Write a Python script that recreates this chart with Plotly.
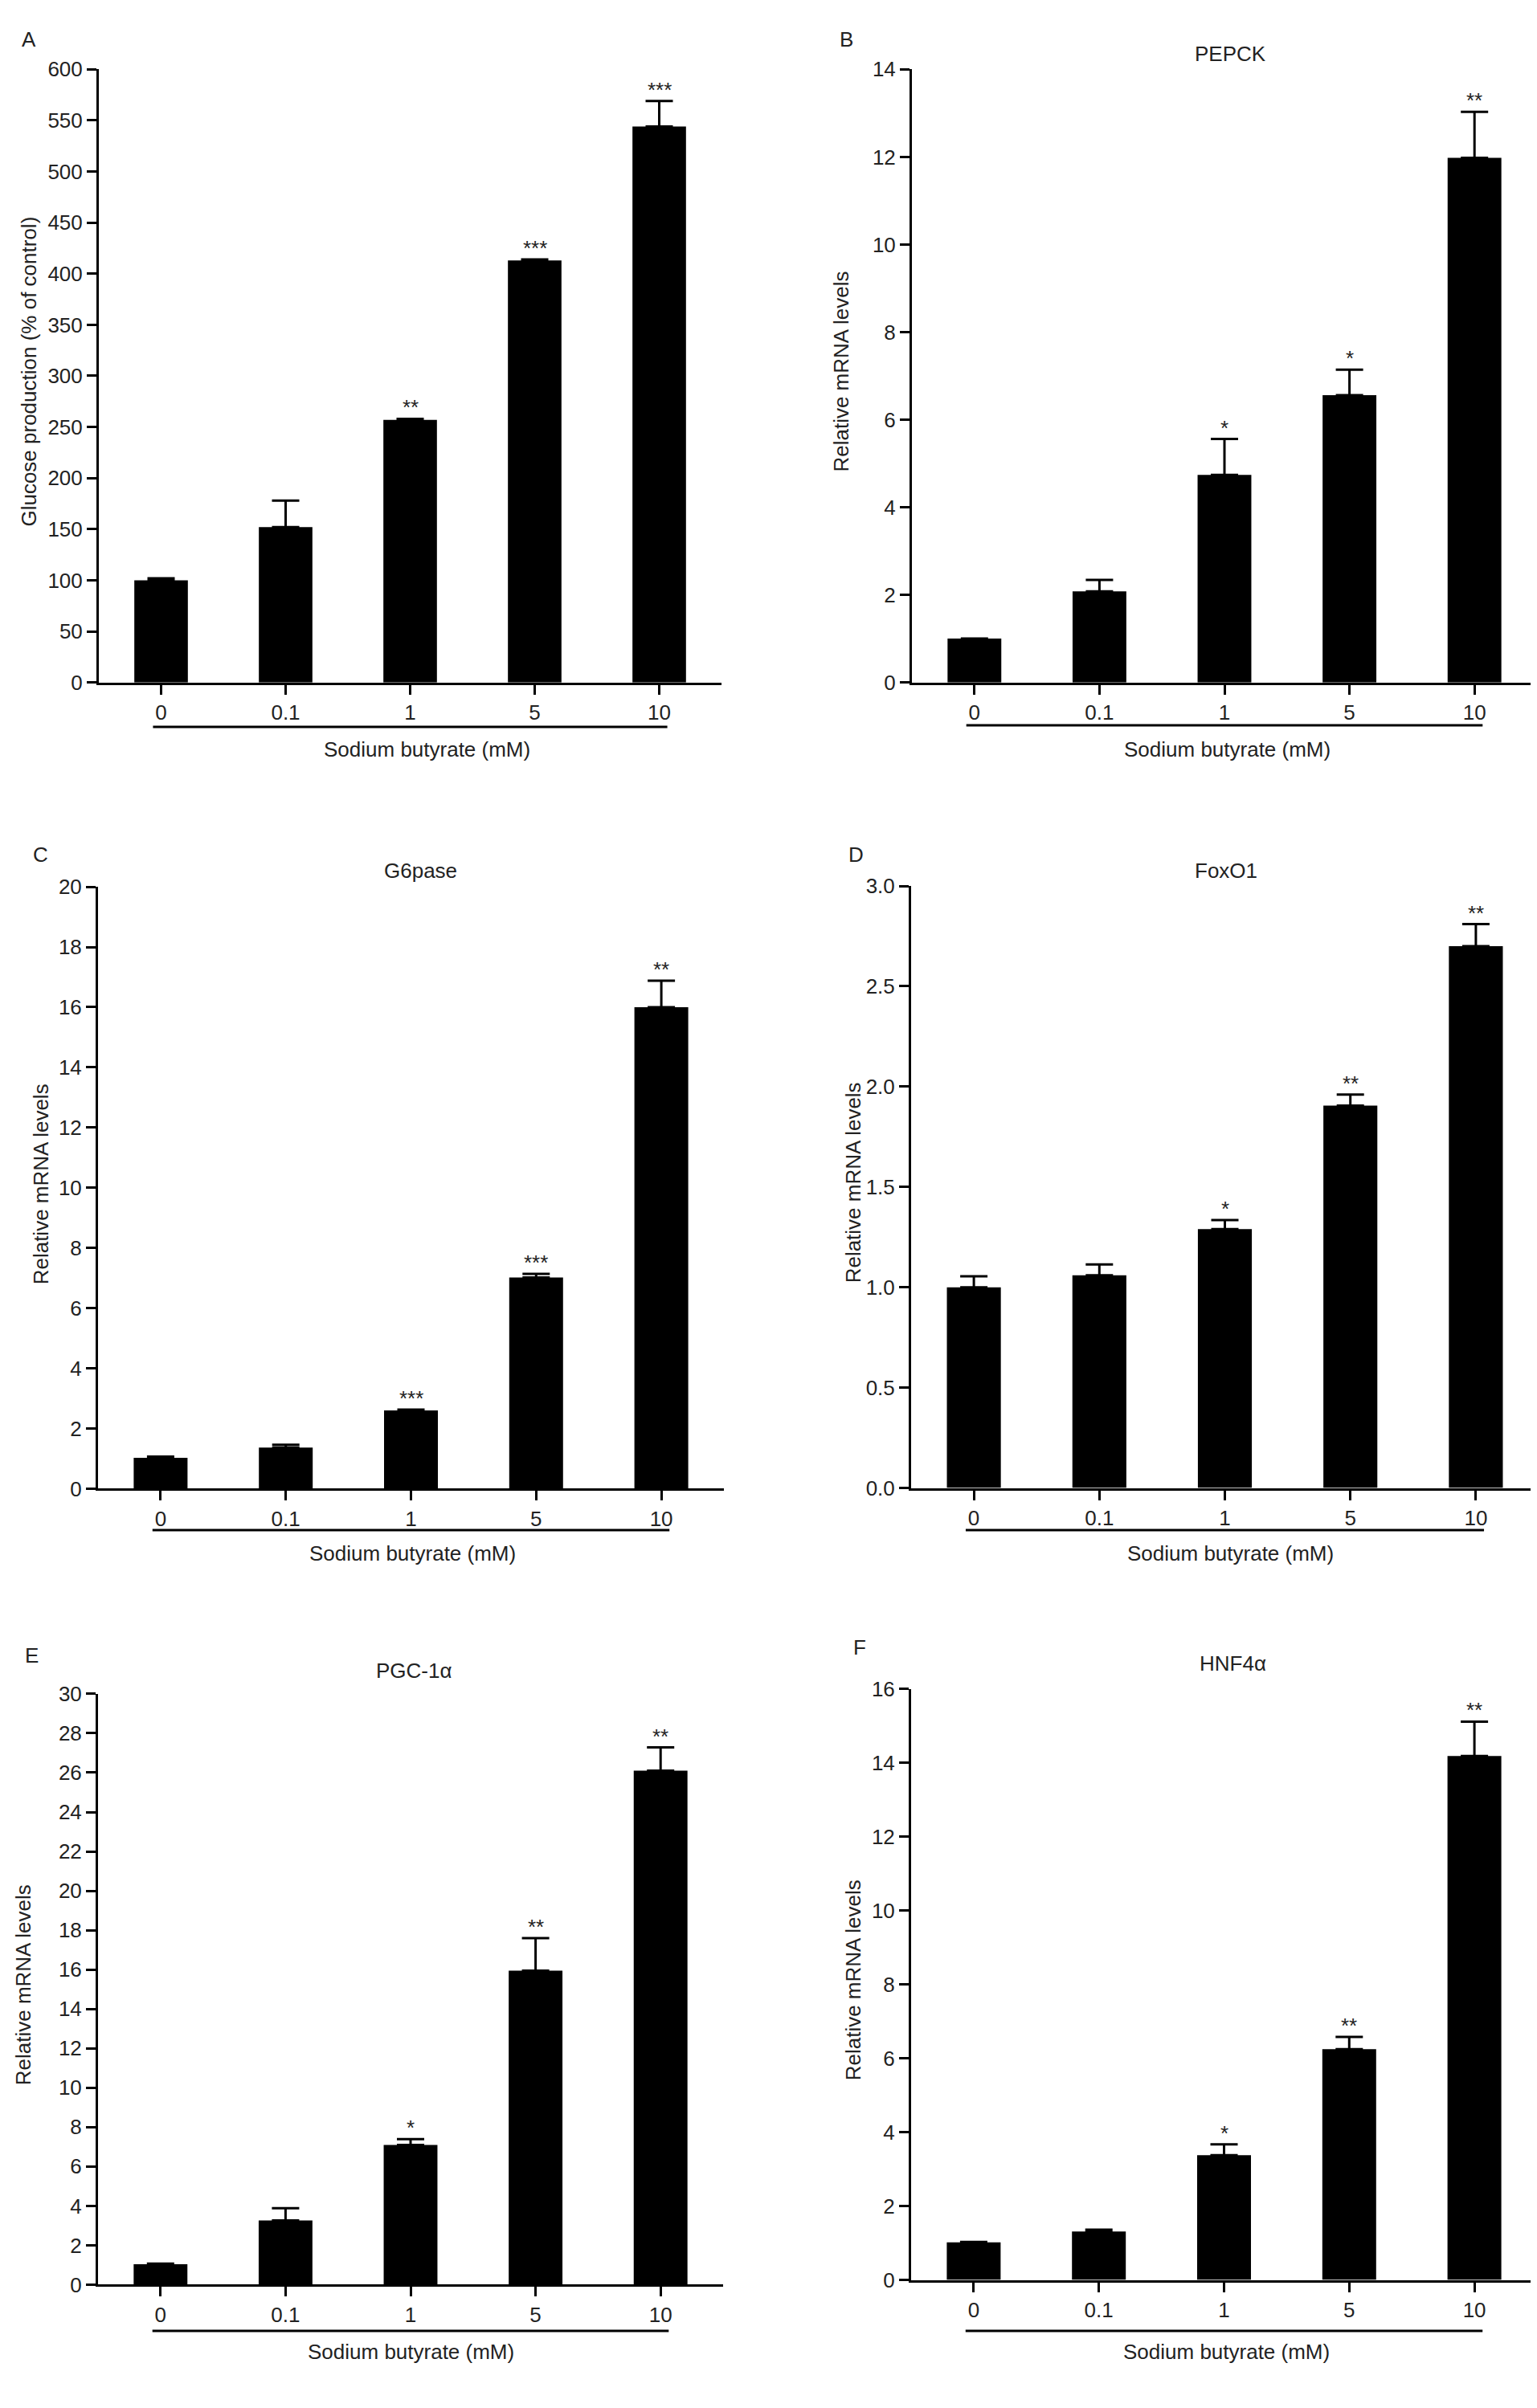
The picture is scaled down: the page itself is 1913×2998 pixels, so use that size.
import plotly.graph_objects as go
from plotly.subplots import make_subplots

W, H = 1913, 2998

doses = ["0", "0.1", "1", "5", "10"]

# panel A - glucose production
glucose = [100, 152, 257, 413, 544]
glucose_err = [2, 26, 1, 1, 25]
glucose_sig = ["", "", "**", "***", "***"]

# panel B - PEPCK
pepck = [1.0, 2.08, 4.74, 6.56, 11.98]
pepck_err = [0.0, 0.26, 0.82, 0.58, 1.05]
pepck_sig = ["", "", "*", "*", "**"]

# panel C - G6pase
g6pase = [1.03, 1.37, 2.6, 7.02, 16.0]
g6pase_err = [0.04, 0.09, 0.03, 0.12, 0.88]
g6pase_sig = ["", "", "***", "***", "**"]

# panel D - FoxO1
foxo1 = [1.0, 1.06, 1.29, 1.905, 2.70]
foxo1_err = [0.055, 0.054, 0.045, 0.056, 0.11]
foxo1_sig = ["", "", "*", "**", "**"]

# panel E - PGC-1a
pgc1a = [1.04, 3.26, 7.1, 15.95, 26.1]
pgc1a_err = [0.03, 0.62, 0.29, 1.65, 1.18]
pgc1a_sig = ["", "", "*", "**", "**"]

# panel F - HNF4a
hnf4a = [1.02, 1.31, 3.38, 6.25, 14.19]
hnf4a_err = [0.01, 0.05, 0.29, 0.33, 0.93]
hnf4a_sig = ["", "", "*", "**", "**"]

FONT = "Liberation Sans, Arial, sans-serif"
TXT = "#222222"
FS = 26

# (letter, title, ytitle, values, errs, sig, ymax, dtick, tickformat,
#  plot box px [x0, x1, y0, y1], letter px, title px, ytitle px, xlabel px, underline y px)
panels = [
    ("A", "", "Glucose production (% of control)", glucose, glucose_err, glucose_sig, 600, 50, "d",
     [115, 890, 64, 835], (28, 26), None, (28, 444), (523, 919), 891),
    ("B", "PEPCK", "Relative mRNA levels", pepck, pepck_err, pepck_sig, 14, 2, "d",
     [1127, 1905, 64, 835], (1045, 26), (1523, 44), (1039, 444), (1519, 919), 889),
    ("C", "G6pase", "Relative mRNA levels", g6pase, g6pase_err, g6pase_sig, 20, 2, "d",
     [114, 893, 1092, 1849], (42, 1052), (515, 1072), (43, 1466), (505, 1930), 1901),
    ("D", "FoxO1", "Relative mRNA levels", foxo1, foxo1_err, foxo1_sig, 3, 0.5, ".1f",
     [1126, 1907, 1091, 1848], (1057, 1052), (1518, 1072), (1054, 1464), (1523, 1930), 1901),
    ("E", "PGC-1α", "Relative mRNA levels", pgc1a, pgc1a_err, pgc1a_sig, 30, 2, "d",
     [114, 892, 2107, 2850], (31, 2059), (507, 2078), (21, 2473), (503, 2934), 2908),
    ("F", "HNF4α", "Relative mRNA levels", hnf4a, hnf4a_err, hnf4a_sig, 16, 2, "d",
     [1126, 1905, 2101, 2844], (1062, 2048), (1526, 2069), (1054, 2467), (1518, 2934), 2908),
]

fig = make_subplots(rows=3, cols=2)


def px(p):
    return p[0] / W, 1 - p[1] / H


annotations = []
shapes = []
for i, (letter, title, ytitle, vals, errs, sig, ymax, dtick, tfmt,
        box, lpos, tpos, ypos, xlpos, uly) in enumerate(panels):
    row, col = i // 2 + 1, i % 2 + 1
    fig.add_trace(go.Bar(
        x=doses, y=vals,
        marker=dict(color="black", line=dict(width=0)),
        error_y=dict(type="data", symmetric=False, array=errs, arrayminus=[0] * len(errs),
                     color="black", thickness=3, width=17),
        showlegend=False,
    ), row=row, col=col)

    n = "" if i == 0 else str(i + 1)
    fig.layout["xaxis" + n].update(
        domain=[box[0] / W, box[1] / W],
        type="category", range=[-0.5, 4.5],
        showline=True, linecolor="black", linewidth=3,
        ticks="outside", ticklen=12, tickwidth=3, tickcolor="black",
        tickfont=dict(size=FS, color=TXT, family=FONT),
        showgrid=False, zeroline=False, fixedrange=True,
    )
    fig.layout["yaxis" + n].update(
        domain=[1 - box[3] / H, 1 - box[2] / H],
        range=[0, ymax], dtick=dtick, tick0=0, tickformat=tfmt,
        showline=True, linecolor="black", linewidth=3,
        ticks="outside", ticklen=12, tickwidth=3, tickcolor="black",
        tickfont=dict(size=FS, color=TXT, family=FONT),
        showgrid=False, zeroline=False, fixedrange=True,
    )

    xr = "x" + n
    yr = "y" + n
    # significance stars above the error bars (category index positions)
    for j, (v, e, s) in enumerate(zip(vals, errs, sig)):
        if s:
            annotations.append(dict(x=j, y=v + e, xref=xr, yref=yr, text=s, showarrow=False,
                                    yanchor="bottom", yshift=-3,
                                    font=dict(size=FS, color=TXT, family=FONT)))

    # panel letter, title, axis labels
    lx, ly = px(lpos)
    annotations.append(dict(x=lx, y=ly, xref="paper", yref="paper", text=letter, showarrow=False,
                            xanchor="center", yanchor="middle",
                            font=dict(size=FS, color=TXT, family=FONT)))
    if tpos:
        tx, ty = px(tpos)
        annotations.append(dict(x=tx, y=ty, xref="paper", yref="paper", text=title, showarrow=False,
                                xanchor="center", yanchor="middle",
                                font=dict(size=FS, color=TXT, family=FONT)))
    yx, yy = px(ypos)
    annotations.append(dict(x=yx, y=yy, xref="paper", yref="paper", text=ytitle, showarrow=False,
                            textangle=-90, xanchor="center", yanchor="middle",
                            font=dict(size=FS, color=TXT, family=FONT)))
    xx, xy = px(xlpos)
    annotations.append(dict(x=xx, y=xy, xref="paper", yref="paper", text="Sodium butyrate (mM)",
                            showarrow=False, xanchor="center", yanchor="middle",
                            font=dict(size=FS, color=TXT, family=FONT)))

    # line under the dose labels
    uy = 1 - uly / H
    shapes.append(dict(type="line", xref=xr, yref="paper", x0=-0.065, x1=4.065, y0=uy, y1=uy,
                       line=dict(color="black", width=3)))

fig.update_layout(
    width=W, height=H,
    margin=dict(l=0, r=0, t=0, b=0),
    paper_bgcolor="white", plot_bgcolor="white",
    bargap=0.57,
    annotations=annotations,
    shapes=shapes,
    font=dict(family=FONT, color=TXT),
)

fig.write_html("out.html")
